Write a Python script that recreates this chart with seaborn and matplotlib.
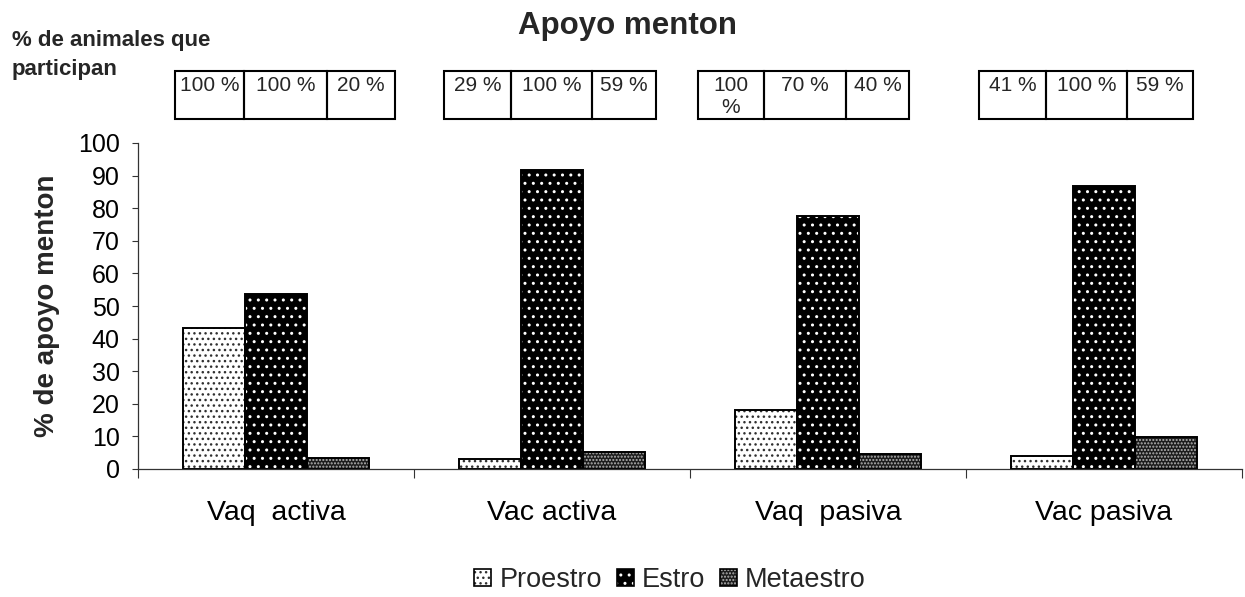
import matplotlib
matplotlib.use("Agg")
import matplotlib.pyplot as plt
from matplotlib.patches import Rectangle, Patch
from matplotlib.legend_handler import HandlerTuple
import seaborn as sns
import pandas as pd

# ---------------- data ----------------
groups = ["Vaq  activa", "Vac activa", "Vaq  pasiva", "Vac pasiva"]
phases = ["Proestro", "Estro", "Metaestro"]
proestro = [43.2, 3.0, 18.1, 3.9]
estro = [53.8, 91.6, 77.5, 86.7]
metaestro = [3.4, 5.2, 4.6, 9.7]
participation = [
    ["100 %", "100 %", "20 %"],
    ["29 %", "100 %", "59 %"],
    ["100 %", "70 %", "40 %"],
    ["41 %", "100 %", "59 %"],
]
yticks = [0, 10, 20, 30, 40, 50, 60, 70, 80, 90, 100]
title = "Apoyo menton"
ylabel = "% de apoyo menton"
note = "% de animales que\nparticipan"

df = pd.DataFrame({
    "grupo": groups * 3,
    "fase": [p for p in phases for _ in groups],
    "valor": proestro + estro + metaestro,
})

sns.set_theme(style="white")
plt.rcParams["font.family"] = ["Liberation Sans", "DejaVu Sans"]
plt.rcParams["hatch.linewidth"] = 1.0

W, H = 1245, 597
fig = plt.figure(figsize=(W / 100, H / 100), dpi=100)
ax = fig.add_axes([138 / W, 1 - 469 / H, (1242 - 138) / W, (469 - 143) / H])

styles = {
    "Proestro": dict(face="white", hatch="...", hcol="#303030"),
    "Estro": dict(face="black", hatch="..", hcol="white"),
    "Metaestro": dict(face="#1c1c1c", hatch=".....", hcol="#b4b4b4"),
}

sns.barplot(data=df, x="grupo", y="valor", hue="fase", hue_order=phases,
            order=groups, width=0.675, palette=["white", "black", "#3c3c3c"],
            legend=False, ax=ax, saturation=1)

for cont, ph in zip(ax.containers, phases):
    st = styles[ph]
    for bar in cont:
        bar.set_facecolor(st["face"])
        bar.set_edgecolor(st["hcol"])
        bar.set_hatch(st["hatch"])
        bar.set_linewidth(0)
        ax.add_patch(Rectangle((bar.get_x(), bar.get_y()), bar.get_width(),
                               bar.get_height(), fill=False, edgecolor="black",
                               linewidth=1.4, zorder=bar.get_zorder() + 0.1))

ax.set_xlim(-0.5, len(groups) - 0.5)
ax.set_ylim(0, 100)
ax.set_yticks(yticks)
ax.set_xticks(range(len(groups)))
ax.set_xticklabels(groups)
ax.set_xticks([i - 0.5 for i in range(len(groups) + 1)], minor=True)
ax.tick_params(axis="x", which="major", length=0, pad=22.5, labelsize=20.5, colors="black")
ax.tick_params(axis="x", which="minor", direction="out", length=6.5, width=0.8,
               color="#333333", bottom=True)
ax.tick_params(axis="y", direction="out", length=4.3, width=0.8, pad=9,
               labelsize=18, color="#333333", labelcolor="black", left=True)
ax.set_xlabel("")
ax.set_ylabel(ylabel, fontsize=20, fontweight="bold", labelpad=13)
for s in ["top", "right"]:
    ax.spines[s].set_visible(False)
for s in ["left", "bottom"]:
    ax.spines[s].set_color("#333333")
    ax.spines[s].set_linewidth(0.9)

# title and note
fig.text(628 / W, 1 - 26 / H, title, ha="center", va="center",
         fontsize=22.5, fontweight="bold")
fig.text(12 / W, 1 - 55 / H, note, ha="left", va="center",
         fontsize=16, fontweight="bold", linespacing=1.45)

# participation boxes (figure pixel layout)
box_edges = [
    [175, 244, 327, 395],
    [444, 511, 592, 656],
    [698, 764, 846, 909],
    [979, 1046, 1127, 1193],
]
box_top, box_bot = 71, 119
renderer = fig.canvas.get_renderer()
for edges, labels in zip(box_edges, participation):
    for j, lab in enumerate(labels):
        x0, x1 = edges[j], edges[j + 1]
        rect = Rectangle((x0 / W, 1 - box_bot / H), (x1 - x0) / W,
                         (box_bot - box_top) / H, transform=fig.transFigure,
                         fill=False, edgecolor="black", linewidth=1.5)
        fig.patches.append(rect)
        t = fig.text((x0 + x1) / 2 / W, 1 - (box_top + 5) / H, lab,
                     ha="center", va="top", fontsize=15, linespacing=1.2)
        if t.get_window_extent(renderer).width > (x1 - x0) - 8:
            t.set_text(lab.replace(" ", "\n"))
        clip = Rectangle((x0 / W, 1 - box_bot / H), (x1 - x0) / W,
                         (box_bot - box_top) / H, transform=fig.transFigure)
        t.set_clip_path(clip)

# legend
handles = []
for p in phases:
    hp = Patch(facecolor=styles[p]["face"], edgecolor=styles[p]["hcol"],
               hatch=styles[p]["hatch"], linewidth=0)
    op = Patch(facecolor="none", edgecolor="black", linewidth=1.2)
    handles.append((hp, op))
leg = fig.legend(handles, phases, loc="center", bbox_to_anchor=(670 / W, 1 - 580 / H),
                 ncol=3, frameon=False, fontsize=19.5, handlelength=0.62,
                 handleheight=0.62, handletextpad=0.3, columnspacing=0.55,
                 borderaxespad=0, borderpad=0,
                 handler_map={tuple: HandlerTuple(ndivide=1, pad=0)})

fig.savefig("out.png", dpi=100)
